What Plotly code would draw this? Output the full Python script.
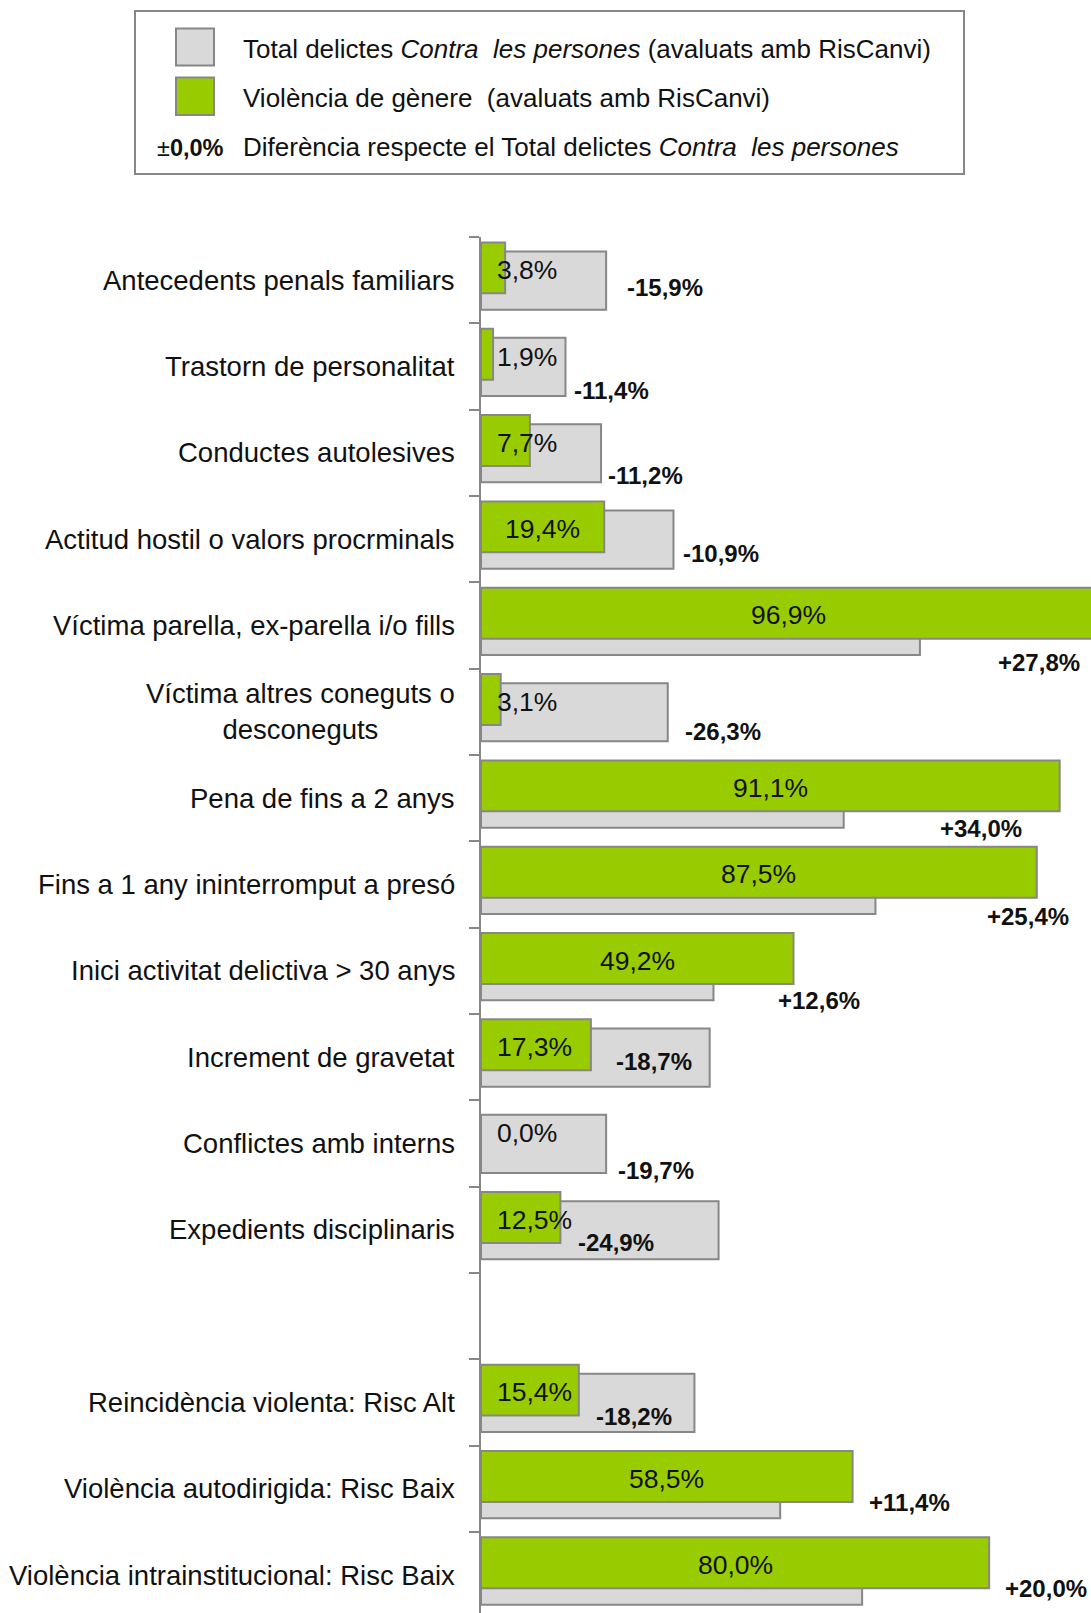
import plotly.graph_objects as go

# ---- data ----
categories = [
    "Antecedents penals familiars",
    "Trastorn de personalitat",
    "Conductes autolesives",
    "Actitud hostil o valors procrminals",
    "Víctima parella, ex-parella i/o fills",
    "Víctima altres coneguts o<br>desconeguts",
    "Pena de fins a 2 anys",
    "Fins a 1 any ininterromput a presó",
    "Inici activitat delictiva > 30 anys",
    "Increment de gravetat",
    "Conflictes amb interns",
    "Expedients disciplinaris",
    "",
    "Reincidència violenta: Risc Alt",
    "Violència autodirigida: Risc Baix",
    "Violència intrainstitucional: Risc Baix",
]
total_persones = [19.7, 13.3, 18.9, 30.3, 69.1, 29.4, 57.1, 62.1, 36.6, 36.0, 19.7, 37.4, None, 33.6, 47.1, 60.0]
violencia_genere = [3.8, 1.9, 7.7, 19.4, 96.9, 3.1, 91.1, 87.5, 49.2, 17.3, 0.0, 12.5, None, 15.4, 58.5, 80.0]
diferencia = [-15.9, -11.4, -11.2, -10.9, 27.8, -26.3, 34.0, 25.4, 12.6, -18.7, -19.7, -24.9, None, -18.2, 11.4, 20.0]

# ---- placement of the bold difference labels (x in %, px below row top) ----
diff_label_x = [22.6, 14.4, 19.7, 31.5, 81.0, 31.8, 71.9, 79.4, 46.5, 21.0, 21.3, 14.9, None, 17.8, 60.8, 82.2]
diff_label_dy = [50, 67, 66, 58, 80, 63, 74, 75, 73, 48, 70, 56, None, 57, 57, 57]

GREEN = "#99CC00"
GREY = "#D9D9D9"
EDGE = "#878787"
FONT = "Liberation Sans, Arial, sans-serif"

W, H = 1091, 1613
L, T = 481, 237
PW, PH = W - L, H - T
PX_PER_PCT = 6.352
ROW_PX = 86.33


def px(x):
    return (x - L) / PW


def py(y):
    return 1 - (y - T) / PH


def pct(v):
    return f"{v:.1f}%".replace(".", ",")


ypos = list(range(len(categories)))

fig = go.Figure()

# Total delictes contra les persones (behind)
fig.add_trace(go.Bar(
    y=ypos, x=total_persones, orientation="h",
    width=0.674, offset=-0.332,
    marker=dict(color=GREY, line=dict(color=EDGE, width=2)),
    hoverinfo="skip", showlegend=False,
))

# Violencia de genere (front)
fig.add_trace(go.Bar(
    y=ypos, x=violencia_genere, orientation="h",
    width=0.59, offset=-0.4375,
    marker=dict(color=GREEN,
                line=dict(color=EDGE, width=[0 if not v else 2 for v in violencia_genere])),
    hoverinfo="skip", showlegend=False,
))

annotations = []

# category labels
for i, cat in enumerate(categories):
    if not cat:
        continue
    annotations.append(dict(
        xref="paper", yref="y", x=0, y=i, xshift=-24,
        xanchor="right", yanchor="middle", align="center",
        text=cat, showarrow=False,
        font=dict(family=FONT, size=27.5, color="#111111"),
    ))

# value labels in the green bars
for i, v in enumerate(violencia_genere):
    if v is None:
        continue
    if v < 18:
        x, anchor = 2.2, "left"
    else:
        x, anchor = v / 2, "center"
    annotations.append(dict(
        xref="x", yref="y", x=x, y=i, yshift=10,
        xanchor=anchor, yanchor="middle",
        text=pct(v), showarrow=False,
        font=dict(family=FONT, size=26.5, color="#111111"),
    ))

# bold difference labels
for i, d in enumerate(diferencia):
    if d is None:
        continue
    txt = ("+" if d > 0 else "") + pct(d)
    annotations.append(dict(
        xref="x", yref="y", x=diff_label_x[i], y=i,
        yshift=ROW_PX / 2 - diff_label_dy[i],
        xanchor="left", yanchor="middle",
        text=f"<b>{txt}</b>", showarrow=False,
        font=dict(family=FONT, size=24, color="#111111"),
    ))

# legend box
shapes = [
    dict(type="rect", xref="paper", yref="paper",
         x0=px(135), x1=px(964), y0=py(174), y1=py(11),
         line=dict(color=EDGE, width=2), fillcolor="white", layer="above"),
    dict(type="rect", xref="paper", yref="paper",
         x0=px(176), x1=px(214), y0=py(65.5), y1=py(28.5),
         line=dict(color=EDGE, width=2), fillcolor=GREY, layer="above"),
    dict(type="rect", xref="paper", yref="paper",
         x0=px(176), x1=px(214), y0=py(115), y1=py(77.5),
         line=dict(color=EDGE, width=2), fillcolor=GREEN, layer="above"),
]
legend_rows = [
    (241, 49, "Total delictes <i>Contra  les persones</i> (avaluats amb RisCanvi)"),
    (241, 98, "Violència de gènere  (avaluats amb RisCanvi)"),
    (241, 147, "Diferència respecte el Total delictes <i>Contra  les persones</i>"),
    (155, 148, "±<b>0,0%</b>"),
]
for x, y, txt in legend_rows:
    annotations.append(dict(
        xref="paper", yref="paper", x=px(x), y=py(y),
        xanchor="left", yanchor="middle",
        text=txt, showarrow=False,
        font=dict(family=FONT, size=26 if x > 200 else 23.5, color="#111111"),
    ))

fig.update_layout(
    width=W, height=H,
    margin=dict(l=L, r=0, t=T, b=0, pad=0),
    paper_bgcolor="white", plot_bgcolor="white",
    barmode="overlay",
    xaxis=dict(range=[0, PW / PX_PER_PCT], visible=False, fixedrange=True),
    yaxis=dict(
        range=[-0.5 + PH / ROW_PX, -0.5], autorange=False,
        tickmode="array", tickvals=[k - 0.5 for k in range(len(categories) + 1)],
        ticks="outside", ticklen=10, tickwidth=2, tickcolor=EDGE,
        showticklabels=False, showgrid=False, zeroline=False,
        showline=True, linecolor=EDGE, linewidth=2,
    ),
    annotations=annotations,
    shapes=shapes,
    font=dict(family=FONT),
)

fig.write_html(
    "out.html",
    config={"displayModeBar": False},
    post_script="document.body.style.margin='0';document.body.style.overflow='hidden';",
)
